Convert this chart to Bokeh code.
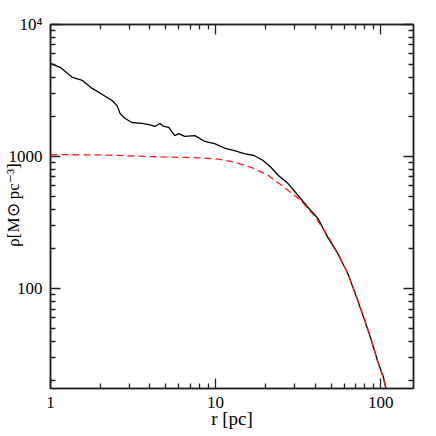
from bokeh.plotting import figure
from bokeh.models import Range1d, FixedTicker, LogAxis, CustomJSTickFormatter
from bokeh.embed import file_html
from bokeh.resources import INLINE

# --- data ---
r_black = [1.0, 1.15, 1.36, 1.56, 1.79, 2.06, 2.36, 2.53, 2.64, 2.83, 3.12, 3.58, 3.94, 4.29, 4.6,
           4.8, 5.2, 5.66, 5.99, 6.5, 7.5, 8.6, 9.86, 11.3, 13.0, 14.9, 17.1, 19.4, 21.7, 24.0,
           27.5, 31.6, 36.3, 41.7, 47.9, 55.0, 63.2, 72.6, 79.0, 86.7, 95.6, 104.0, 108.0]
rho_black = [5070, 4720, 3970, 3770, 3280, 2950, 2660, 2430, 2120, 1940, 1810, 1780, 1745, 1690, 1780,
             1700, 1660, 1440, 1490, 1420, 1440, 1300, 1254, 1160, 1110, 1054, 1018, 933, 826, 718,
             624, 507, 411, 339, 243, 184, 130, 81, 60, 42.6, 28.5, 21.2, 17.0]

r_red = [1.0, 2.0, 3.0, 4.0, 5.0, 6.5, 8.24, 10.4, 13.0, 16.5, 20.9, 26.0, 32.9, 39.5,
         47.9, 55.0, 63.2, 72.6, 79.0, 86.7, 95.6, 104.0, 108.0]
rho_red = [1035, 1028, 1012, 1000, 990, 985, 975, 955, 906, 826, 718, 585, 464, 357,
           250, 186, 130, 82, 61, 43, 28.5, 21.0, 17.0]

x_major = [1, 10, 100]
y_major = [100, 1000, 10000]
x_minor = [m * d for d in (1, 10) for m in range(2, 10)]
y_minor = [m * d for d in (10, 100, 1000) for m in range(2, 10)]

x_title = "r [pc]"
y_title = "\u03c1[M\u2299 pc\u207b\u00b3]"

FONT = "Liberation Serif"

p = figure(width=432, height=436, x_axis_type="log", y_axis_type="log",
           x_range=Range1d(1, 158), y_range=Range1d(17.5, 10000),
           output_backend="svg", toolbar_location=None,
           min_border_left=48, min_border_right=19, min_border_top=24, min_border_bottom=48)
p.grid.visible = False
p.outline_line_color = "#222222"
p.outline_line_width = 1.5
p.background_fill_color = "white"
p.border_fill_color = "white"

p.line(r_black, rho_black, line_color="black", line_width=1.3)
p.line(r_red, rho_red, line_color="#ff1a1a", line_width=1.3, line_dash="7 4")

fmt = CustomJSTickFormatter(code="return tick >= 9999 ? '10\u2074' : tick.toFixed(0);")

def style(ax, ticks, minor, labels=True):
    ax.ticker = FixedTicker(ticks=ticks, minor_ticks=minor)
    ax.major_tick_in = 10
    ax.major_tick_out = 0
    ax.minor_tick_in = 5
    ax.minor_tick_out = 0
    ax.axis_line_color = "#222222"
    ax.axis_line_width = 1.5
    ax.major_tick_line_color = "#222222"
    ax.minor_tick_line_color = "#222222"
    ax.major_tick_line_width = 1.3
    ax.minor_tick_line_width = 1.3
    if labels:
        ax.formatter = fmt
        ax.major_label_text_font = FONT
        ax.major_label_text_font_size = "17px"
        ax.major_label_text_color = "black"
        ax.major_label_standoff = 8
        ax.axis_label_text_font = FONT
        ax.axis_label_text_font_size = "17px"
        ax.axis_label_text_font_style = "normal"
        ax.axis_label_text_color = "black"
    else:
        ax.major_label_text_font_size = "0px"
        ax.major_label_standoff = 0
        ax.major_label_text_color = None
        ax.axis_label = None

style(p.xaxis[0], x_major, x_minor)
style(p.yaxis[0], y_major, y_minor)
p.xaxis[0].axis_label = x_title
p.xaxis[0].axis_label_text_font_size = "19px"
p.xaxis[0].axis_label_standoff = -3
p.yaxis[0].axis_label = y_title
p.yaxis[0].axis_label_standoff = -17

top = LogAxis()
style(top, x_major, x_minor, labels=False)
p.add_layout(top, "above")
right = LogAxis()
style(right, y_major, y_minor, labels=False)
p.add_layout(right, "right")

open("out.html", "w").write(file_html(p, INLINE))
